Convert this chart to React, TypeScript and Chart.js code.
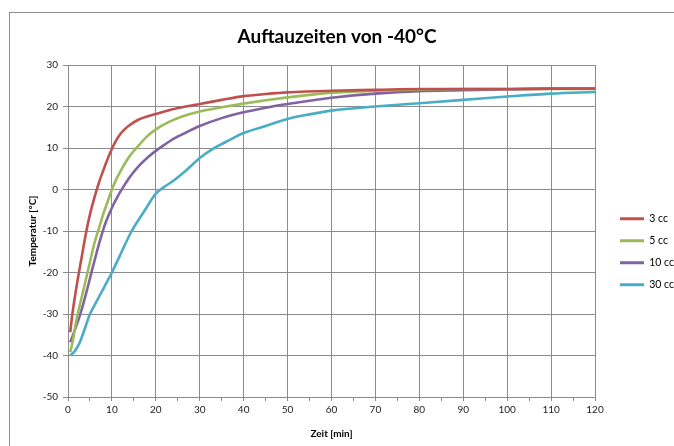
import React, { useEffect, useRef } from "react";
import { Chart, registerables } from "chart.js";

Chart.register(...registerables);

const chartTitle = "Auftauzeiten von -40°C";
const xAxisTitle = "Zeit [min]";
const yAxisTitle = "Temperatur [°C]";
const seriesNames = ["3 cc", "5 cc", "10 cc", "30 cc"];
const seriesColors = ["#C0504D", "#9BBB59", "#8064A2", "#4BACC6"];

const times3cc = [0.5, 1, 2, 3, 4, 5, 6, 7, 8, 9, 10, 11, 12, 13, 14, 16, 18, 20, 23, 26, 30, 35, 40, 45, 50, 60, 70, 80, 90, 100, 110, 120];
const temps3cc = [-34.4, -30, -23, -17, -11, -6, -2, 1.5, 4.5, 7.3, 9.8, 11.9, 13.5, 14.6, 15.5, 16.8, 17.6, 18.2, 19.1, 19.8, 20.6, 21.6, 22.5, 23, 23.4, 23.8, 24, 24.2, 24.2, 24.2, 24.3, 24.3];

const times5cc = [0.5, 1, 2, 3, 4, 5, 6, 7, 8, 9, 10, 11, 12, 14, 16, 18, 20, 23, 26, 30, 35, 40, 45, 50, 55, 60, 70, 80, 90, 100, 110, 120];
const temps5cc = [-39.2, -37, -31, -26.5, -22, -17.5, -13, -9.5, -6, -3, 0, 2.5, 4.5, 8, 10.5, 12.8, 14.5, 16.3, 17.6, 18.8, 19.8, 20.7, 21.5, 22.2, 22.8, 23.3, 23.8, 24.1, 24.2, 24.2, 24.2, 24.2];

const times10cc = [0.5, 1.5, 2.5, 3.5, 4.5, 5.5, 6.5, 7.5, 8.5, 10, 11, 12, 13, 14, 16, 18, 20, 22, 24, 27, 30, 35, 40, 45, 50, 55, 60, 70, 80, 90, 100, 110, 120];
const temps10cc = [-36.8, -34, -31, -27.5, -23.5, -19.3, -15.3, -11.5, -8.2, -4.4, -2.3, -0.4, 1.3, 2.9, 5.5, 7.6, 9.3, 10.8, 12.2, 13.8, 15.3, 17.2, 18.6, 19.7, 20.6, 21.4, 22.1, 23.1, 23.7, 23.9, 24.1, 24.3, 24.3];

const times30cc = [0.5, 1.5, 2.7, 4, 5, 6, 7, 8, 9, 10, 12, 14.5, 17.5, 20, 22, 24, 27, 30, 33, 36, 40, 45, 50, 55, 60, 70, 80, 90, 100, 110, 120];
const temps30cc = [-40, -39, -36.8, -33, -30, -28, -26, -24, -22, -20, -15.5, -10, -5, -1, 0.7, 2.1, 4.7, 7.6, 9.8, 11.5, 13.6, 15.3, 17, 18.1, 19, 20, 20.8, 21.6, 22.4, 23.1, 23.5];

const seriesTimes = [times3cc, times5cc, times10cc, times30cc];
const seriesTemps = [temps3cc, temps5cc, temps10cc, temps30cc];

const X_MIN = 0;
const X_MAX = 120;
const Y_MIN = -50;
const Y_MAX = 30;

const W = 674;
const H = 446;
const FONT = "Lato, 'Liberation Sans', sans-serif";
const GRID = "#8c8c8c";

const legendPlacer = {
  id: "legendPlacer",
  beforeUpdate(chart: any) {
    const lg = chart.legend;
    if (lg && !lg._patchedFit) {
      const orig = lg.fit.bind(lg);
      lg.fit = function () {
        orig();
        this.width = 79;
      };
      lg._patchedFit = true;
    }
  },
  afterLayout(chart: any) {
    const lg = chart.legend;
    if (lg) {
      lg.left = 608.5;
      lg.right = W;
      lg.top = 202;
      lg.bottom = H;
    }
  },
};

export default function App() {
  const ref = useRef<HTMLCanvasElement | null>(null);

  useEffect(() => {
    document.body.style.margin = "0";
    if (!ref.current) return;
    const datasets = seriesNames.map((name, i) => ({
      label: name,
      data: seriesTimes[i].map((t, j) => ({ x: t, y: seriesTemps[i][j] })),
      borderColor: seriesColors[i],
      backgroundColor: seriesColors[i],
      borderWidth: 2.6,
      pointRadius: 0,
      cubicInterpolationMode: "monotone" as const,
      fill: false,
    }));
    const chart = new Chart(ref.current, {
      type: "line",
      data: { datasets },
      plugins: [legendPlacer],
      options: {
        animation: false,
        responsive: false,
        layout: { padding: 0 },
        plugins: {
          title: {
            display: true,
            text: chartTitle,
            color: "#000",
            font: { family: FONT, size: 19, weight: "bold", lineHeight: 1.2 },
            padding: { top: 25.6, bottom: 16.6 },
          },
          legend: {
            display: true,
            position: "right",
            align: "start",
            labels: {
              boxWidth: 24,
              boxHeight: 3,
              padding: 11.5,
              color: "#000",
              font: { family: FONT, size: 10.5 },
              generateLabels: (c: any) =>
                (Chart.defaults.plugins.legend.labels as any)
                  .generateLabels(c)
                  .map((l: any) => ({ ...l, lineWidth: 0 })),
            },
          },
          tooltip: { enabled: false },
        },
        scales: {
          x: {
            type: "linear",
            min: X_MIN,
            max: X_MAX,
            afterFit: (s: any) => {
              s.height = 49;
            },
            border: { display: true, color: GRID, width: 1 },
            grid: {
              color: (ctx: any) => (ctx.tick && ctx.tick.value % 10 === 0 ? GRID : "rgba(0,0,0,0)"),
              tickColor: GRID,
              tickLength: 4,
              lineWidth: 1,
            },
            ticks: {
              stepSize: 5,
              autoSkip: false,
              maxRotation: 0,
              padding: 3,
              color: "#222",
              font: { family: FONT, size: 10 },
              callback: (v: any) => (Number(v) % 10 === 0 ? String(v) : ""),
            },
            title: {
              display: true,
              text: xAxisTitle,
              color: "#000",
              font: { family: FONT, size: 10, weight: "bold", lineHeight: 1.2 },
              padding: { top: 0, bottom: 6 },
            },
          },
          y: {
            type: "linear",
            min: Y_MIN,
            max: Y_MAX,
            afterFit: (s: any) => {
              s.width = 68;
            },
            border: { display: true, color: GRID, width: 1 },
            grid: {
              color: GRID,
              tickColor: GRID,
              tickLength: 5,
              lineWidth: 1,
            },
            ticks: {
              stepSize: 10,
              padding: 5,
              color: "#222",
              font: { family: FONT, size: 10 },
            },
            title: {
              display: true,
              text: yAxisTitle,
              color: "#000",
              font: { family: FONT, size: 10, weight: "bold", lineHeight: 1.2 },
              padding: { top: 27, bottom: 0 },
            },
          },
        },
      },
    });
    return () => chart.destroy();
  }, []);

  return (
    <div style={{ position: "fixed", left: 0, top: 0, width: W, height: H, background: "#fff", overflow: "hidden" }}>
      <div
        style={{
          position: "absolute",
          left: 9,
          top: 12,
          width: W,
          height: H,
          borderLeft: "1px solid #8e8e8e",
          borderTop: "1px solid #8e8e8e",
        }}
      />
      <canvas ref={ref} width={W} height={H} style={{ position: "absolute", left: 0, top: 0 }} />
    </div>
  );
}
